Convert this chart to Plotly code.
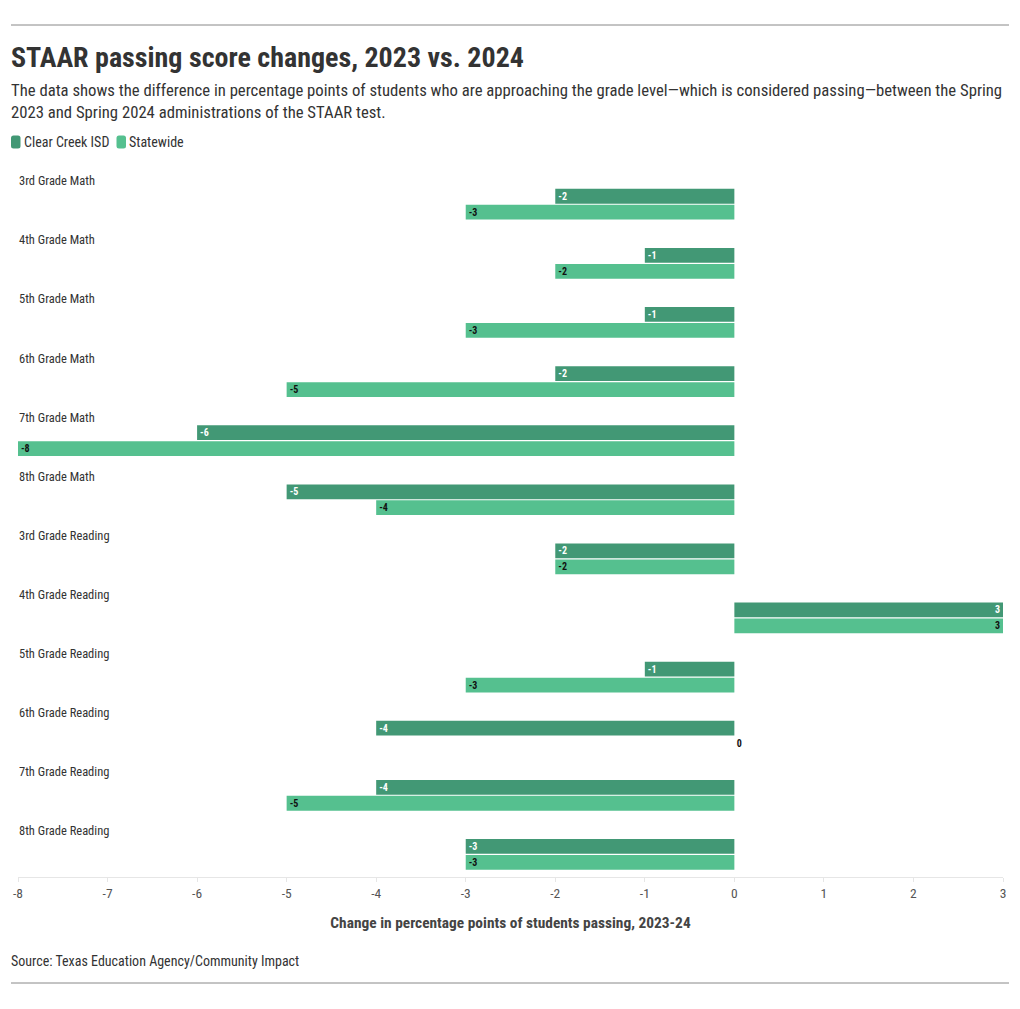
import plotly.graph_objects as go

categories = ["3rd Grade Math", "4th Grade Math", "5th Grade Math", "6th Grade Math",
              "7th Grade Math", "8th Grade Math", "3rd Grade Reading", "4th Grade Reading",
              "5th Grade Reading", "6th Grade Reading", "7th Grade Reading", "8th Grade Reading"]
clear_creek = [-2, -1, -1, -2, -6, -5, -2, 3, -1, -4, -4, -3]
statewide = [-3, -2, -3, -5, -8, -4, -2, 3, -3, 0, -5, -3]
x_ticks = [-8, -7, -6, -5, -4, -3, -2, -1, 0, 1, 2, 3]

series_names = ["Clear Creek ISD", "Statewide"]
colors = ["#429875", "#55c08f"]
text_colors = ["#ffffff", "#111111"]

FONT = "Roboto Condensed, Liberation Sans Narrow, Arial Narrow, Roboto, sans-serif"

W, H = 1020, 1009
L, R, T, B = 18, 17, 166, 132
PW, PH = W - L - R, H - T - B


def px_x(px):
    return (px - L) / PW


def px_y(py):
    return (H - B - py) / PH


n = len(categories)
pos_label = list(range(n))
offsets = [0.262, 0.532]
bar_w = 0.25

fig = go.Figure()
for k, (name, vals) in enumerate(zip(series_names, [clear_creek, statewide])):
    ys = [i + offsets[k] for i in pos_label]
    fig.add_trace(go.Bar(
        x=vals,
        y=ys,
        orientation="h",
        width=bar_w,
        name=name,
        marker=dict(color=colors[k], line=dict(width=0)),
        text=[str(v) for v in vals],
        textposition="auto",
        insidetextanchor="end",
        constraintext="none",
        insidetextfont=dict(family=FONT, size=10, color=text_colors[k], weight="bold"),
        outsidetextfont=dict(family=FONT, size=10, color="#111111", weight="bold"),
        textangle=0,
        cliponaxis=False,
        showlegend=False,
        hoverinfo="x+name",
    ))
    # zero-valued bars have no width, so plotly draws no label; show it outside like the reference
    zx = [v for v in vals if v == 0]
    zy = [y for v, y in zip(vals, ys) if v == 0]
    if zx:
        fig.add_trace(go.Scatter(
            x=zx, y=zy, mode="text", text=["\u00a0" + str(v) for v in zx],
            textposition="middle right",
            textfont=dict(family=FONT, size=10, color="#111111", weight="bold"),
            showlegend=False, hoverinfo="skip", cliponaxis=False,
        ))


def rounded_rect(x0, y0, x1, y1, r):
    pts = (f"M {px_x(x0 + r)},{px_y(y0)} L {px_x(x1 - r)},{px_y(y0)} "
           f"Q {px_x(x1)},{px_y(y0)} {px_x(x1)},{px_y(y0 + r)} "
           f"L {px_x(x1)},{px_y(y1 - r)} Q {px_x(x1)},{px_y(y1)} {px_x(x1 - r)},{px_y(y1)} "
           f"L {px_x(x0 + r)},{px_y(y1)} Q {px_x(x0)},{px_y(y1)} {px_x(x0)},{px_y(y1 - r)} "
           f"L {px_x(x0)},{px_y(y0 + r)} Q {px_x(x0)},{px_y(y0)} {px_x(x0 + r)},{px_y(y0)} Z")
    return pts


annotations = []
for i, c in enumerate(categories):
    annotations.append(dict(x=px_x(17), xref="paper", y=i, yref="y", text=c,
                            showarrow=False, xanchor="left", yanchor="middle",
                            font=dict(family=FONT, size=12.5, color="#333333")))

annotations += [
    dict(x=px_x(9), y=px_y(57), xref="paper", yref="paper", xanchor="left", yanchor="middle",
         text="<b>STAAR passing score changes, 2023 vs. 2024</b>", showarrow=False,
         font=dict(family=FONT, size=28, color="#333333")),
    dict(x=px_x(9), y=px_y(101), xref="paper", yref="paper", xanchor="left", yanchor="middle",
         align="left",
         text="The data shows the difference in percentage points of students who are approaching the grade level\u2014which is considered passing\u2014between the Spring<br>2023 and Spring 2024 administrations of the STAAR test.",
         showarrow=False, font=dict(family=FONT, size=16.7, color="#333333")),
    dict(x=px_x(22), y=px_y(142), xref="paper", yref="paper", xanchor="left", yanchor="middle",
         text=series_names[0], showarrow=False, font=dict(family=FONT, size=14, color="#333333")),
    dict(x=px_x(127), y=px_y(142), xref="paper", yref="paper", xanchor="left", yanchor="middle",
         text=series_names[1], showarrow=False, font=dict(family=FONT, size=14, color="#333333")),
    dict(x=px_x(9), y=px_y(961), xref="paper", yref="paper", xanchor="left", yanchor="middle",
         text="Source: Texas Education Agency/Community Impact", showarrow=False,
         font=dict(family=FONT, size=14, color="#333333")),
]

shapes = [
    dict(type="line", xref="paper", yref="paper", x0=px_x(11), x1=px_x(1009), y0=px_y(25), y1=px_y(25),
         line=dict(color="#888888", width=1)),
    dict(type="line", xref="paper", yref="paper", x0=px_x(11), x1=px_x(1009), y0=px_y(983), y1=px_y(983),
         line=dict(color="#888888", width=1)),
    dict(type="path", xref="paper", yref="paper", path=rounded_rect(11, 135.5, 20.5, 148.5, 2.5),
         fillcolor=colors[0], line=dict(width=0)),
    dict(type="path", xref="paper", yref="paper", path=rounded_rect(116.5, 135.5, 126, 148.5, 2.5),
         fillcolor=colors[1], line=dict(width=0)),
]

fig.update_layout(
    width=W, height=H,
    margin=dict(l=L, r=R, t=T, b=B, pad=0),
    paper_bgcolor="white", plot_bgcolor="white",
    barmode="overlay",
    font=dict(family=FONT, color="#333333"),
    annotations=annotations,
    shapes=shapes,
    xaxis=dict(range=[-8, 3], tickvals=x_ticks, ticktext=[str(t) for t in x_ticks],
               showgrid=False, zeroline=False, showline=True, linecolor="#e6e6e6", linewidth=1,
               ticks="outside", ticklen=4, tickcolor="#e6e6e6",
               tickfont=dict(family=FONT, size=13.5, color="#555555"),
               title=dict(text="<b>Change in percentage points of students passing, 2023-24</b>",
                          font=dict(family=FONT, size=15.4, color="#444444"), standoff=17),
               fixedrange=True),
    yaxis=dict(range=[11.78, -0.25], showgrid=False, zeroline=False, showticklabels=False,
               showline=False, fixedrange=True),
)

fig.write_html("out.html")
